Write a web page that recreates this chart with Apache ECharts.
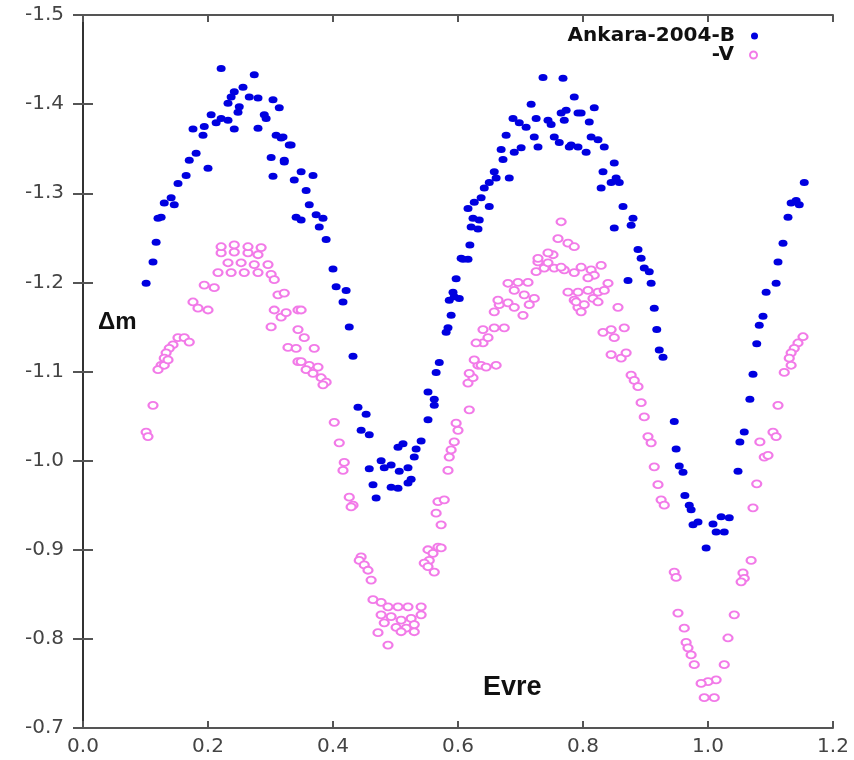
<!DOCTYPE html>
<html>
<head>
<meta charset="utf-8">
<title>Ankara-2004 B / V</title>
<script src="https://cdn.jsdelivr.net/npm/echarts@6/dist/echarts.min.js"></script>
<style>
  html, body { margin: 0; padding: 0; background: #fff; }
  #chart { width: 854px; height: 760px; }
</style>
</head>
<body>
<div id="chart"></div>
<script>
// phase ticks and magnitude ticks
const xTicks = [0.0, 0.2, 0.4, 0.6, 0.8, 1.0, 1.2];
const yTicks = [-1.5, -1.4, -1.3, -1.2, -1.1, -1.0, -0.9, -0.8, -0.7];

// B band, [phase, delta m]
const bandB = [
  [0.221, -1.440], [0.274, -1.433], [0.256, -1.419], [0.242, -1.414], [0.237, -1.408],
  [0.232, -1.401], [0.250, -1.397], [0.248, -1.391], [0.266, -1.408], [0.280, -1.407],
  [0.304, -1.405], [0.314, -1.396], [0.290, -1.388], [0.293, -1.384], [0.205, -1.388],
  [0.221, -1.384], [0.232, -1.382], [0.213, -1.379], [0.194, -1.375], [0.176, -1.372],
  [0.192, -1.365], [0.242, -1.372], [0.280, -1.373], [0.309, -1.365], [0.317, -1.362],
  [0.333, -1.354], [0.181, -1.345], [0.170, -1.337], [0.200, -1.328], [0.165, -1.320],
  [0.152, -1.311], [0.301, -1.340], [0.322, -1.335], [0.304, -1.319], [0.338, -1.315],
  [0.141, -1.295], [0.130, -1.289], [0.146, -1.287], [0.125, -1.273], [0.120, -1.272],
  [0.341, -1.273], [0.117, -1.245], [0.112, -1.223], [0.101, -1.199],
  [0.320, -1.363], [0.330, -1.354], [0.322, -1.337], [0.349, -1.324], [0.368, -1.320],
  [0.357, -1.303], [0.362, -1.287], [0.349, -1.270], [0.373, -1.276], [0.384, -1.272],
  [0.378, -1.262], [0.389, -1.248],
  [0.736, -1.430], [0.768, -1.429], [0.786, -1.408], [0.717, -1.400], [0.688, -1.384],
  [0.698, -1.379], [0.709, -1.374], [0.725, -1.384], [0.744, -1.382], [0.749, -1.377],
  [0.765, -1.390], [0.773, -1.393], [0.770, -1.382], [0.792, -1.390], [0.677, -1.365],
  [0.722, -1.363], [0.728, -1.352], [0.754, -1.363], [0.762, -1.357], [0.778, -1.352],
  [0.792, -1.352], [0.669, -1.349], [0.690, -1.346], [0.701, -1.351], [0.672, -1.338],
  [0.658, -1.324], [0.661, -1.317], [0.682, -1.317], [0.650, -1.312], [0.642, -1.306],
  [0.637, -1.295], [0.626, -1.290], [0.616, -1.283], [0.650, -1.285], [0.624, -1.272],
  [0.634, -1.270], [0.621, -1.262], [0.632, -1.260], [0.619, -1.242], [0.605, -1.227],
  [0.797, -1.390], [0.818, -1.396], [0.810, -1.380], [0.781, -1.354], [0.805, -1.346],
  [0.813, -1.363], [0.824, -1.360], [0.834, -1.352], [0.850, -1.334], [0.832, -1.324],
  [0.853, -1.317], [0.858, -1.312], [0.845, -1.312], [0.829, -1.306], [0.864, -1.285],
  [0.880, -1.272], [0.877, -1.264], [0.850, -1.261], [0.888, -1.237], [0.893, -1.227],
  [1.154, -1.312], [1.141, -1.292], [1.133, -1.289], [1.146, -1.287], [1.128, -1.273],
  [1.120, -1.244],
  [0.400, -1.215], [0.405, -1.195], [0.421, -1.191], [0.416, -1.178], [0.426, -1.150],
  [0.432, -1.117], [0.440, -1.060], [0.453, -1.052], [0.445, -1.034], [0.458, -1.029],
  [0.512, -1.019], [0.504, -1.015], [0.541, -1.022], [0.533, -1.013], [0.530, -1.004],
  [0.477, -1.000], [0.493, -0.995], [0.482, -0.992], [0.506, -0.988], [0.520, -0.992],
  [0.458, -0.991], [0.464, -0.973], [0.493, -0.970], [0.504, -0.969], [0.525, -0.979],
  [0.520, -0.975], [0.469, -0.958], [0.552, -1.046], [0.552, -1.077], [0.562, -1.069],
  [0.562, -1.062], [0.565, -1.099], [0.570, -1.110], [0.581, -1.144], [0.584, -1.149],
  [0.589, -1.163], [0.586, -1.180], [0.594, -1.184], [0.602, -1.182], [0.592, -1.189],
  [0.597, -1.204], [0.608, -1.226], [0.616, -1.226],
  [0.898, -1.216], [0.906, -1.212], [0.872, -1.202], [0.909, -1.199], [0.914, -1.171],
  [0.918, -1.147], [0.922, -1.124], [0.928, -1.116], [0.946, -1.044], [0.949, -1.013],
  [0.954, -0.994], [0.960, -0.987], [0.963, -0.961], [0.970, -0.950],
  [1.112, -1.223], [1.109, -1.199], [1.093, -1.189], [1.088, -1.162], [1.082, -1.152],
  [1.078, -1.131], [1.072, -1.097], [1.067, -1.069], [1.058, -1.032], [1.051, -1.021],
  [1.048, -0.988],
  [0.973, -0.945], [0.984, -0.931], [0.976, -0.928], [1.008, -0.929], [1.021, -0.937],
  [1.034, -0.936], [1.013, -0.920], [1.026, -0.920], [0.997, -0.902]
];

// V band, [phase, delta m]
const bandV = [
  [0.221, -1.233], [0.242, -1.234], [0.264, -1.233], [0.280, -1.231], [0.221, -1.240],
  [0.242, -1.242], [0.264, -1.240], [0.285, -1.239], [0.232, -1.222], [0.253, -1.222],
  [0.274, -1.220], [0.296, -1.220], [0.216, -1.211], [0.237, -1.211], [0.258, -1.211],
  [0.280, -1.211], [0.301, -1.209], [0.306, -1.203], [0.194, -1.197], [0.210, -1.194],
  [0.176, -1.178], [0.184, -1.171], [0.200, -1.169], [0.312, -1.186], [0.322, -1.188],
  [0.306, -1.169], [0.317, -1.161], [0.301, -1.150], [0.344, -1.169], [0.344, -1.147],
  [0.328, -1.127], [0.341, -1.126], [0.344, -1.111], [0.152, -1.138], [0.162, -1.138],
  [0.170, -1.133], [0.144, -1.130], [0.138, -1.126], [0.133, -1.121], [0.130, -1.115],
  [0.125, -1.107], [0.120, -1.102], [0.130, -1.107], [0.136, -1.113], [0.112, -1.062],
  [0.101, -1.032], [0.104, -1.027],
  [0.325, -1.166], [0.349, -1.169], [0.354, -1.138], [0.370, -1.126], [0.349, -1.111],
  [0.362, -1.107], [0.357, -1.102], [0.376, -1.105], [0.368, -1.098], [0.381, -1.093],
  [0.389, -1.088], [0.384, -1.085], [0.402, -1.043], [0.410, -1.020], [0.418, -0.998],
  [0.416, -0.989], [0.426, -0.959], [0.432, -0.950], [0.429, -0.948], [0.445, -0.892],
  [0.442, -0.888], [0.450, -0.883], [0.456, -0.877], [0.461, -0.866],
  [0.464, -0.844], [0.477, -0.841], [0.488, -0.836], [0.504, -0.836], [0.520, -0.836],
  [0.541, -0.836], [0.477, -0.827], [0.493, -0.825], [0.509, -0.821], [0.525, -0.823],
  [0.541, -0.827], [0.482, -0.818], [0.501, -0.813], [0.517, -0.812], [0.530, -0.808],
  [0.472, -0.807], [0.488, -0.793], [0.509, -0.808], [0.530, -0.816],
  [0.552, -0.900], [0.560, -0.896], [0.568, -0.903], [0.573, -0.902], [0.554, -0.888],
  [0.546, -0.885], [0.562, -0.875], [0.552, -0.881], [0.568, -0.954], [0.565, -0.941],
  [0.573, -0.928], [0.578, -0.956], [0.584, -0.989], [0.586, -1.004], [0.589, -1.012],
  [0.594, -1.021], [0.600, -1.034], [0.597, -1.042], [0.618, -1.057], [0.616, -1.087],
  [0.624, -1.093], [0.618, -1.098], [0.632, -1.107], [0.637, -1.107], [0.645, -1.105],
  [0.661, -1.107], [0.626, -1.113], [0.640, -1.132], [0.648, -1.138], [0.629, -1.132],
  [0.640, -1.147], [0.658, -1.149], [0.674, -1.149], [0.658, -1.167], [0.666, -1.175],
  [0.680, -1.177], [0.664, -1.180], [0.690, -1.172], [0.704, -1.163], [0.714, -1.175],
  [0.722, -1.182], [0.706, -1.186], [0.690, -1.191], [0.680, -1.199], [0.696, -1.200],
  [0.712, -1.200], [0.725, -1.212], [0.738, -1.216], [0.754, -1.216], [0.770, -1.214],
  [0.786, -1.211], [0.744, -1.222], [0.765, -1.217], [0.728, -1.223], [0.752, -1.231],
  [0.776, -1.189], [0.786, -1.180], [0.792, -1.172], [0.765, -1.268], [0.760, -1.249],
  [0.776, -1.244], [0.786, -1.240], [0.744, -1.233], [0.728, -1.227],
  [0.797, -1.217], [0.813, -1.214], [0.829, -1.219], [0.840, -1.199], [0.818, -1.208],
  [0.808, -1.205], [0.792, -1.189], [0.808, -1.191], [0.824, -1.189], [0.834, -1.191],
  [0.789, -1.178], [0.802, -1.175], [0.816, -1.182], [0.824, -1.178], [0.797, -1.167],
  [0.856, -1.172], [0.832, -1.144], [0.845, -1.147], [0.850, -1.138], [0.866, -1.149],
  [0.845, -1.119], [0.861, -1.115], [0.869, -1.121], [0.877, -1.096], [0.882, -1.090],
  [0.888, -1.083], [0.893, -1.065], [0.898, -1.049], [0.904, -1.027], [0.909, -1.020],
  [0.914, -0.993], [0.920, -0.973], [0.925, -0.956], [0.930, -0.950],
  [1.152, -1.139], [1.144, -1.132], [1.138, -1.126], [1.133, -1.121], [1.130, -1.115],
  [1.133, -1.107], [1.122, -1.099], [1.112, -1.062], [1.104, -1.032], [1.109, -1.027],
  [1.083, -1.021], [1.090, -1.004], [1.096, -1.006], [1.078, -0.974], [1.072, -0.947],
  [1.069, -0.888], [1.056, -0.874], [1.058, -0.868], [1.053, -0.864], [1.042, -0.827],
  [1.032, -0.801], [1.026, -0.771], [1.013, -0.754], [1.000, -0.752], [0.989, -0.750],
  [1.010, -0.734], [0.994, -0.734], [0.946, -0.875], [0.949, -0.869], [0.952, -0.829],
  [0.962, -0.812], [0.965, -0.796], [0.968, -0.790], [0.973, -0.782], [0.978, -0.771]
];

const labelFont = { fontFamily: "DejaVu Sans", fontSize: 20, color: "#444" };
const lineStyle = { color: "#555", width: 2 };
const legendText = { fontFamily: "DejaVu Sans", fontWeight: "bold", fontSize: 20, color: "#111", padding: [0, 9, 0, 0] };

const getOption = () => {
  return {
    animation: false,
    backgroundColor: "#fff",
    grid: { left: 83, right: 21, top: 15, bottom: 32 },
    legend: [
      {
        data: ["Ankara-2004-B"],
        right: 91,
        top: 21,
        align: "right",
        itemWidth: 11,
        itemHeight: 7,
        textStyle: legendText,
      },
      {
        data: ["-V"],
        right: 91,
        top: 40,
        align: "right",
        itemWidth: 11,
        itemHeight: 7,
        textStyle: legendText,
      },
    ],
    xAxis: [
      {
        type: "value",
        min: xTicks[0],
        max: xTicks[xTicks.length - 1],
        interval: 0.2,
        splitLine: { show: false },
        axisLine: { lineStyle: lineStyle },
        axisTick: { inside: true, length: 7, lineStyle: lineStyle },
        axisLabel: Object.assign({ margin: 9, formatter: (v) => v.toFixed(1) }, labelFont),
      },
      {
        type: "value",
        position: "top",
        min: xTicks[0],
        max: xTicks[xTicks.length - 1],
        interval: 0.2,
        splitLine: { show: false },
        axisLine: { lineStyle: lineStyle },
        axisTick: { inside: true, length: 7, lineStyle: lineStyle },
        axisLabel: { show: false },
      },
    ],
    yAxis: [
      {
        type: "value",
        inverse: true,
        min: yTicks[0],
        max: yTicks[yTicks.length - 1],
        interval: 0.1,
        splitLine: { show: false },
        axisLine: { lineStyle: lineStyle },
        axisTick: { inside: true, length: 10, lineStyle: lineStyle },
        axisLabel: Object.assign({ margin: 19, formatter: (v) => v.toFixed(1) }, labelFont),
      },
      {
        type: "value",
        position: "right",
        inverse: true,
        min: yTicks[0],
        max: yTicks[yTicks.length - 1],
        interval: 0.1,
        splitLine: { show: false },
        axisLine: { lineStyle: { color: "#333", width: 2 } },
        axisTick: { inside: true, length: 10, lineStyle: lineStyle },
        axisLabel: { show: false },
      },
    ],
    graphic: [
      {
        type: "text",
        left: 98,
        top: 310,
        style: { text: "Δm", font: "bold 24px 'Liberation Sans'", fill: "#111" },
      },
      {
        type: "text",
        left: 483,
        top: 674,
        style: { text: "Evre", font: "bold 27px 'Liberation Sans'", fill: "#111" },
      },
    ],
    series: [
      {
        name: "Ankara-2004-B",
        type: "scatter",
        data: bandB,
        symbol: "circle",
        symbolSize: [9, 7],
        itemStyle: { color: "#0000e0", opacity: 1 },
      },
      {
        name: "-V",
        type: "scatter",
        data: bandV,
        symbol: "emptyCircle",
        symbolSize: [9, 7],
        itemStyle: { color: "#f27ae8", borderWidth: 1, opacity: 1 },
      },
    ],
  };
};

const chart = echarts.init(document.getElementById("chart"));
chart.setOption(getOption());
</script>
</body>
</html>
